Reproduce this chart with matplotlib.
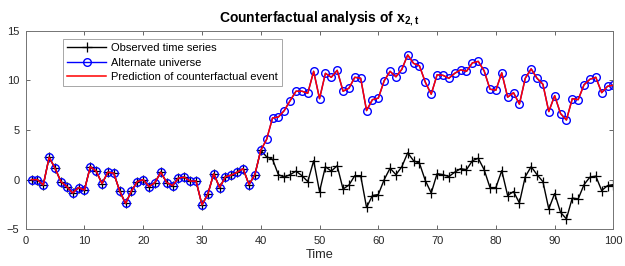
import numpy as np
import matplotlib
matplotlib.use('Agg')
from matplotlib import pyplot as plt

plt.rcParams['font.family'] = ['Liberation Sans', 'DejaVu Sans']
plt.rcParams['mathtext.fontset'] = 'custom'
plt.rcParams['mathtext.rm'] = 'Liberation Sans'
plt.rcParams['mathtext.bf'] = 'Liberation Sans:bold'

#   时间轴 1..100
t = np.arange(1, 101)

#   t=1..40 两条序列相同
common = [0, 0, -0.55, 2.25, 1.15, -0.2, -0.7, -1.35, -0.8, -1.05,
          1.3, 0.85, -0.4, 0.75, 0.65, -1.15, -2.4, -1.15, -0.2, 0,
          -0.7, -0.3, 0.75, -0.3, -0.6, 0.15, 0.25, -0.15, -0.15, -2.55,
          -1.45, 0.6, -0.8, 0.3, 0.45, 0.75, 1.1, -0.5, 0.5, 2.95]

#   t=41..100
observed_tail = [2.3, 2.05, 0.5, 0.25, 0.5, 0.85, 0.4, -0.2, 1.9, -1.2,
                 1.3, 0.85, 1.4, -0.95, -0.55, 0.4, 0.4, -2.8, -1.6, -1.5,
                 0, 1.15, 0.5, 1.3, 2.7, 1.9, 1.65, -0.1, -1.35, 0.6,
                 0.5, 0.3, 0.75, 1.1, 1.0, 1.9, 2.15, 1.0, -0.8, -0.8,
                 0.9, -1.6, -1.2, -2.35, 0.3, 1.3, 0.5, -0.2, -2.95, -1.4,
                 -3.3, -3.95, -1.85, -1.95, -0.5, 0.25, 0.35, -1.1, -0.6, -0.5]

alternate_tail = [4.05, 6.2, 6.3, 6.95, 7.95, 8.9, 8.9, 8.7, 10.9, 8.15,
                  10.7, 10.3, 11.0, 8.9, 9.2, 10.3, 10.2, 6.95, 8.05, 8.2,
                  9.95, 10.9, 10.35, 11.1, 12.55, 11.7, 11.45, 9.8, 8.6, 10.55,
                  10.5, 10.2, 10.7, 11.05, 10.9, 11.75, 11.9, 10.95, 9.1, 9.0,
                  10.75, 8.3, 8.75, 7.6, 10.2, 11.15, 10.2, 9.6, 6.85, 8.45,
                  6.65, 6.0, 8.15, 8.05, 9.55, 10.1, 10.3, 8.75, 9.4, 9.5]

observed = np.array(common + observed_tail)
alternate = np.array(common + alternate_tail)

fig = plt.figure(figsize=(6.25, 2.66), dpi=100)
ax = fig.add_axes([0.041, 0.138, 0.9405, 0.747])

ax.plot(t, observed, '-+', color='k', lw=1, ms=6.5, mew=0.9, label='Observed time series')
ax.plot(t, alternate, '-o', color='b', lw=1, ms=5.5, mfc='none', mew=1.0, label='Alternate universe')
ax.plot(t, alternate, '-', color='r', lw=1.1, label='Prediction of counterfactual event')

ax.set_xlim(0, 100)
ax.set_ylim(-5, 15)
ax.set_xticks(np.arange(0, 101, 10))
ax.set_yticks(np.arange(-5, 16, 5))
ax.tick_params(direction='in', top=True, right=True, labelsize=8, length=3,
               width=0.6, color='0.3', labelcolor='0.15', pad=4.5)
for s in ax.spines.values():
    s.set_color('0.45')
    s.set_linewidth(0.7)

ax.set_xlabel('Time', fontsize=9.2, color='0.15', labelpad=2.5)
ax.set_title(r'Counterfactual analysis of $\mathbf{x_{2,t}}$', fontsize=10,
             fontweight='bold', pad=6)

leg = ax.legend(loc='upper left', bbox_to_anchor=(0.064, 0.957), fontsize=8,
                fancybox=False, edgecolor='0.6', framealpha=1, borderpad=0.35,
                handlelength=3.5, labelspacing=0.42, handletextpad=0.45,
                borderaxespad=0)
leg.get_frame().set_linewidth(0.6)

#   保存
fig.savefig('out.png', dpi=100)
